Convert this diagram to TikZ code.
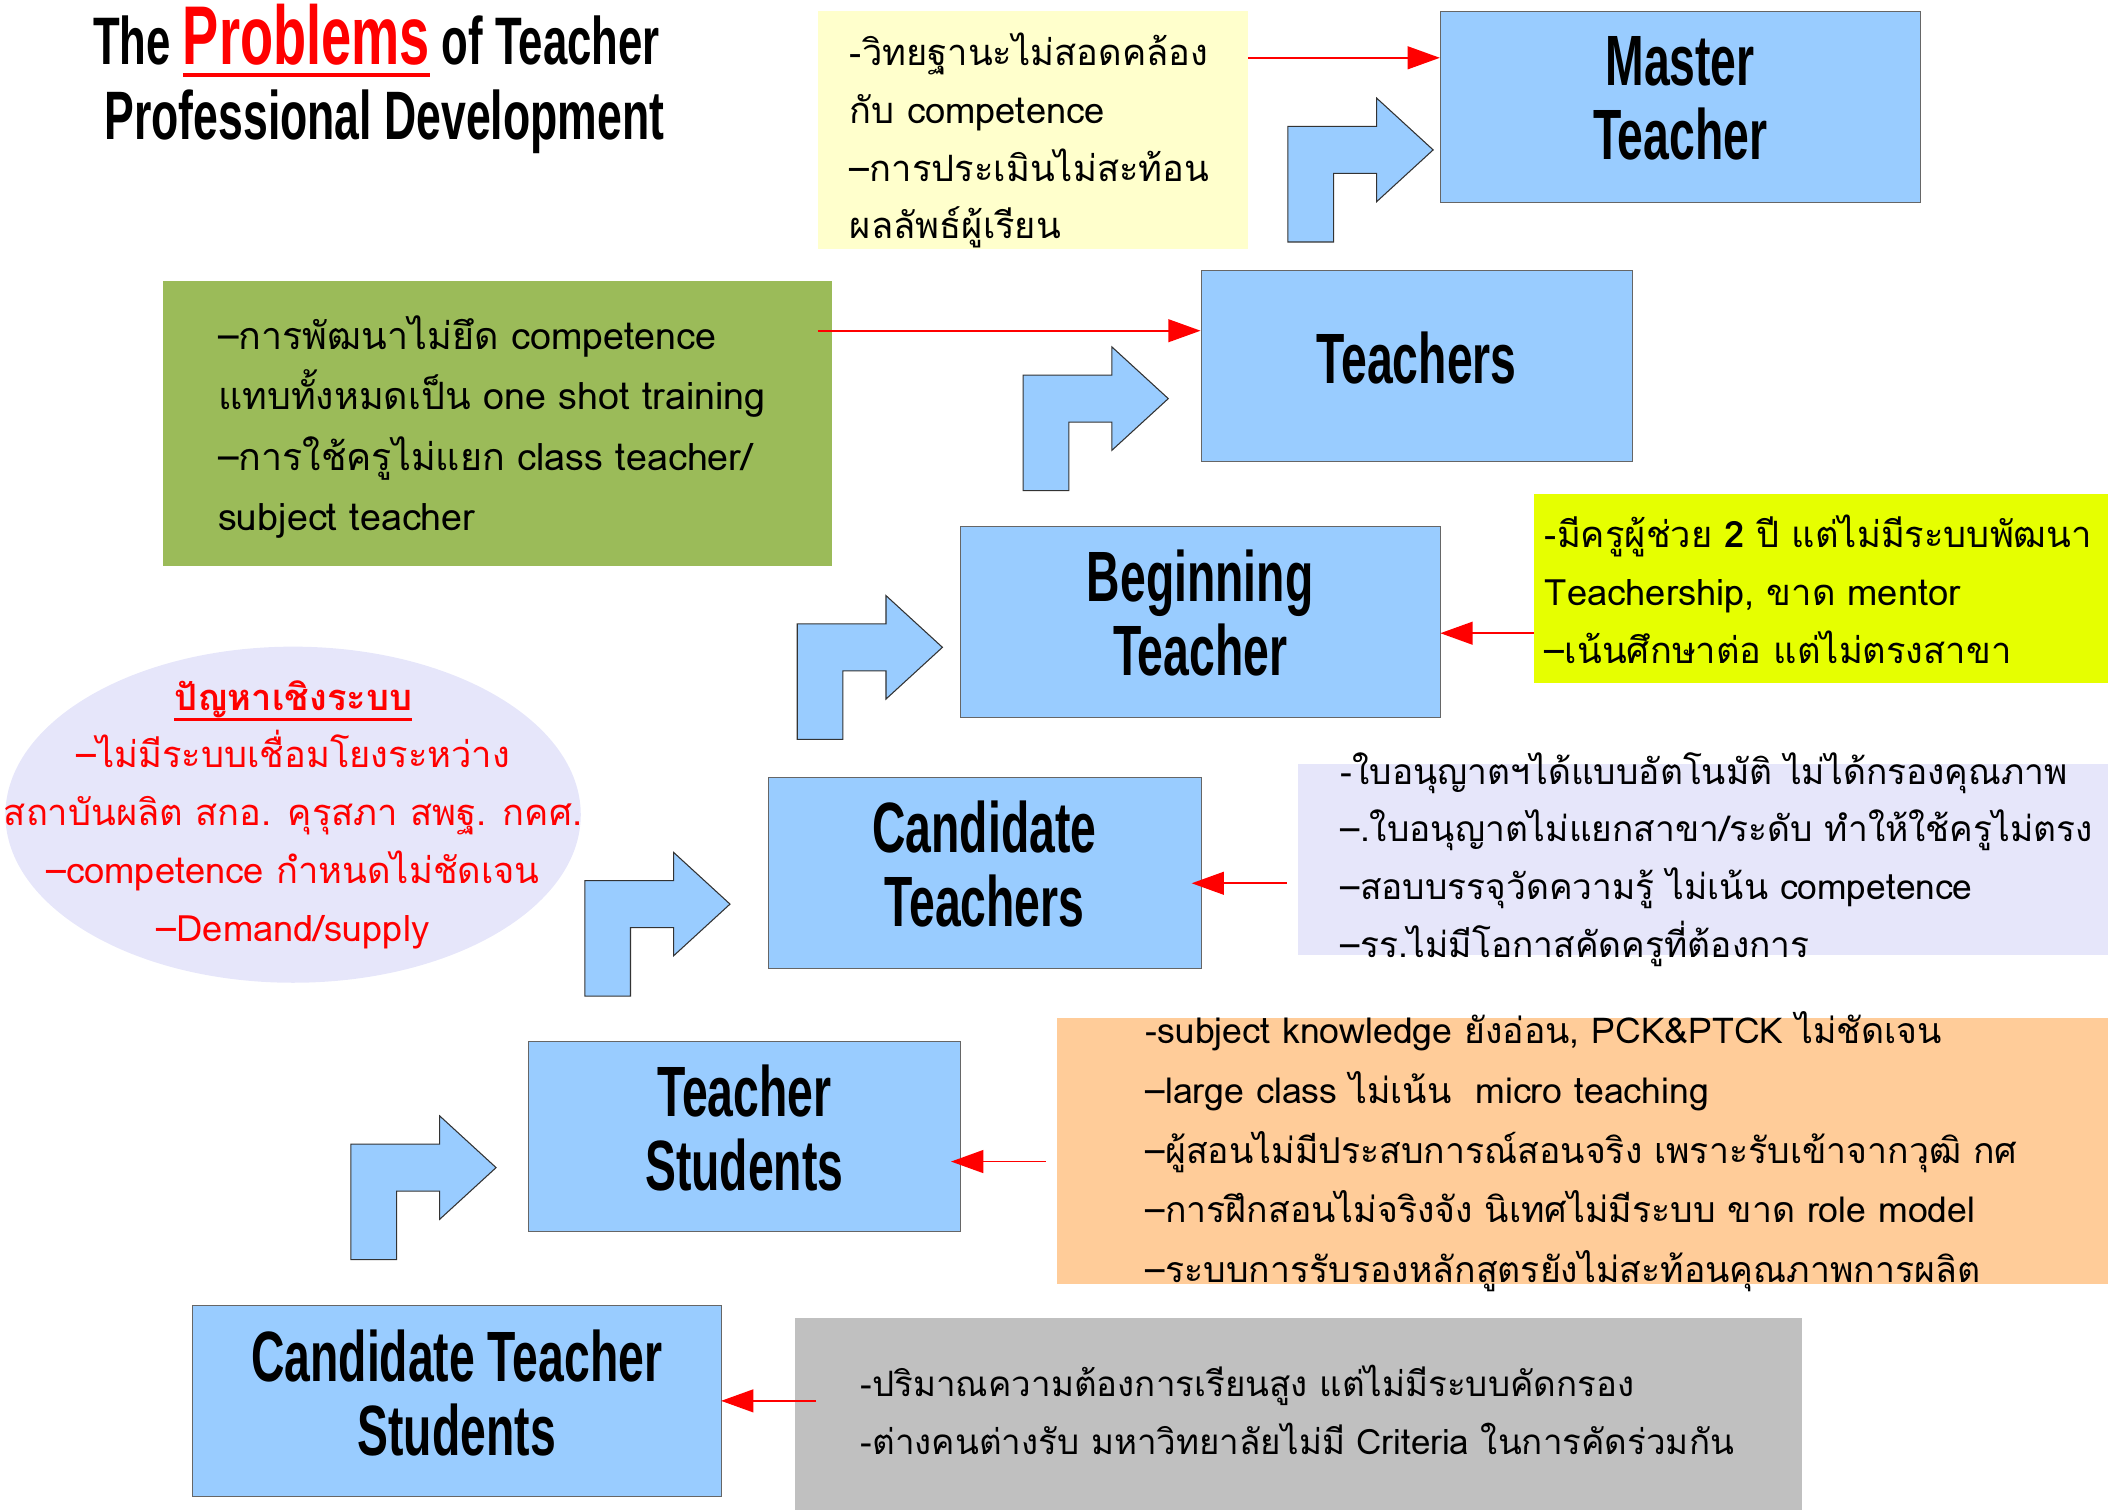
\documentclass[tikz,border=0pt]{standalone}
\usepackage{fontspec}
\usetikzlibrary{arrows.meta, shapes.geometric}

\newfontfamily\thaifont[Script=Thai]{Loma}
\newfontfamily\headfont[FakeStretch=0.65]{Liberation Sans}

\definecolor{levelblue}{HTML}{99CCFF}
\definecolor{noteyellow}{HTML}{FFFFCC}
\definecolor{notegreen}{HTML}{9BBB59}
\definecolor{notelime}{HTML}{E6FF00}
\definecolor{notelav}{HTML}{E6E6FA}
\definecolor{noteorange}{HTML}{FFCC99}
\definecolor{notegray}{HTML}{C0C0C0}

% text with a bar under it: depth of bar bottom, bar thickness, text
\newcommand\withbar[3]{\setbox0\hbox{#3}\rlap{\rule[-#1]{\wd0}{#2}}\box0}
% left-aligned lines that never wrap
\newcommand\notelines[1]{\begin{tabular}{@{}l@{}}#1\end{tabular}}

\begin{document}
\begin{tikzpicture}[
  x=1pt, y=-1pt,
  level/.style={draw=black!60, fill=levelblue, anchor=north west, align=center, inner sep=0pt, minimum height=142pt, text depth=13pt, font=\headfont\bfseries\fontsize{53}{55}\selectfont},
  note/.style={anchor=north west, align=left, inner ysep=-40pt, font=\thaifont\fontsize{27}{43}\selectfont},
  hint/.style={red, line width=1.2pt, -{Triangle[length=24pt, width=17pt]}},
  bent/.style={fill=levelblue, draw=black!80, line width=0.8pt}
]
\useasboundingbox (0,0) rectangle (1568,1123);

% heading
\node[anchor=base, font=\headfont\bfseries\fontsize{50}{50}\selectfont] (title) at (280,48)
  {The {\color{red}\fontsize{62}{62}\selectfont\withbar{9.5pt}{3.5pt}{Problems}} of Teacher};
\node[anchor=base, font=\headfont\bfseries\fontsize{51}{51}\selectfont] (subtitle) at (286,104) {Professional Development};

% career levels
\node[level, minimum width=357pt] (master) at (1071,8) {Master\\Teacher};
\node[level, minimum width=321pt] (teachers) at (893,201) {Teachers};
\node[level, minimum width=357pt] (beginning) at (714,391) {Beginning\\Teacher};
\node[level, minimum width=322pt] (candidate) at (571,578) {Candidate\\Teachers};
\node[level, minimum width=321pt] (student) at (393,774) {Teacher\\Students};
\node[level, minimum width=393pt] (prospect) at (143,971) {Candidate Teacher\\Students};

% step arrows between levels
\foreach \x/\y in {958/73, 761/258, 593/443, 435/634, 261/830}
  \draw[bent] (\x,\y+107) -- ++(0,-86) -- ++(66,0) -- ++(0,-21) -- ++(42,38.5)
    -- ++(-42,38.5) -- ++(0,-21) -- ++(-32,0) -- ++(0,51) -- cycle;

% problem notes
\node[note, fill=noteyellow, inner xsep=24pt, text width=272pt, minimum height=177pt] (rank) at (608,8)
  {\notelines{\rule{0pt}{46pt}-วิทยฐานะไม่สอดคล้อง\\กับ competence\\–การประเมินไม่สะท้อน\\ผลลัพธ์ผู้เรียน}};
\node[note, fill=notegreen, inner xsep=41pt, text width=416pt, minimum height=212pt, font=\thaifont\fontsize{28}{45}\selectfont] (training) at (121,209)
  {\notelines{\rule{0pt}{38pt}–การพัฒนาไม่ยึด competence\\แทบทั้งหมดเป็น one shot training\\–การใช้ครูไม่แยก class teacher/\\subject teacher}};
\node[note, fill=notelime, inner xsep=8pt, text width=411pt, minimum height=141pt] (mentor) at (1141,367)
  {\notelines{\rule{0pt}{38pt}-มีครูผู้ช่วย \textbf{2} ปี แต่ไม่มีระบบพัฒนา\\Teachership, ขาด mentor\\–เน้นศึกษาต่อ แต่ไม่ตรงสาขา}};
\node[note, fill=notelav, inner xsep=32pt, text width=539pt, minimum height=142pt, font=\thaifont\fontsize{26.3}{43}\selectfont] (license) at (965,568)
  {\notelines{-ใบอนุญาตฯได้แบบอัตโนมัติ ไม่ได้กรองคุณภาพ\\–.ใบอนุญาตไม่แยกสาขา/ระดับ ทำให้ใช้ครูไม่ตรง\\–สอบบรรจุวัดความรู้ ไม่เน้น competence\\–รร.ไม่มีโอกาสคัดครูที่ต้องการ}};
\node[note, fill=noteorange, inner xsep=66pt, text width=650pt, minimum height=198pt, font=\thaifont\fontsize{26.5}{44.5}\selectfont] (practice) at (786,757)
  {\notelines{-subject knowledge ยังอ่อน, PCK\&PTCK ไม่ชัดเจน\\–large class ไม่เน้น\ \ micro teaching\\–ผู้สอนไม่มีประสบการณ์สอนจริง เพราะรับเข้าจากวุฒิ กศ\\–การฝึกสอนไม่จริงจัง นิเทศไม่มีระบบ ขาด role model\\–ระบบการรับรองหลักสูตรยังไม่สะท้อนคุณภาพการผลิต}};
\node[note, fill=notegray, inner xsep=49pt, text width=651pt, minimum height=143pt, font=\thaifont\fontsize{26}{43}\selectfont] (intake) at (591,980)
  {\notelines{-ปริมาณความต้องการเรียนสูง แต่ไม่มีระบบคัดกรอง\\-ต่างคนต่างรับ มหาวิทยาลัยไม่มี Criteria ในการคัดร่วมกัน}};

% system-wide problems
\node[ellipse, fill=notelav, minimum width=428pt, minimum height=250pt, inner xsep=-100pt, inner ysep=-60pt,
  align=center, text=red, font=\thaifont\fontsize{27}{43}\selectfont] (system) at (218,606)
  {{\bfseries\withbar{8pt}{2.5pt}{ปัญหาเชิงระบบ}}\\–ไม่มีระบบเชื่อมโยงระหว่าง\\สถาบันผลิต สกอ. คุรุสภา สพฐ. กคศ.\\–competence กำหนดไม่ชัดเจน\\–Demand/supply};

% notes point at their level
\draw[hint] (rank.east |- 0,43) -- (master.west |- 0,43);
\draw[hint, shorten <=-11pt] (training.east |- 0,246) -- (teachers.west |- 0,246);
\draw[hint] (mentor.west |- 0,471) -- (beginning.east |- 0,471);
\draw[hint, shorten <=8pt, shorten >=-7pt] (license.west |- 0,657) -- (candidate.east |- 0,657);
\draw[hint, shorten <=8pt, shorten >=-7pt] (practice.west |- 0,864) -- (student.east |- 0,864);
\draw[hint, shorten <=-16pt] (intake.west |- 0,1042) -- (prospect.east |- 0,1042);
\end{tikzpicture}
\end{document}
